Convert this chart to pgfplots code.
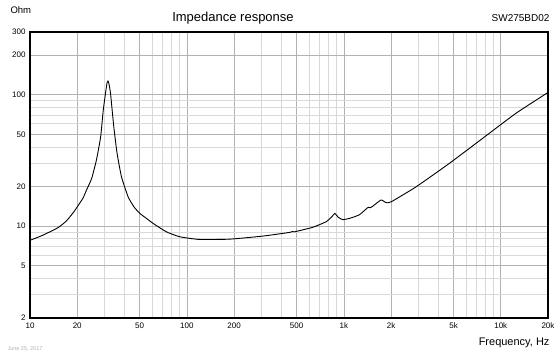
\documentclass[border=0pt]{standalone}
\usepackage{pgfplots}
\pgfplotsset{compat=1.18}
\usepackage{fontspec}
\setmainfont{Liberation Sans}
\begin{document}
\begin{tikzpicture}[x=1pt,y=1pt]
\begin{loglogaxis}[
  scale only axis, width=518pt, height=286pt,
  xmin=10, xmax=20000, ymin=2, ymax=300,
  axis line style={line width=1.3pt, black},
  xtick={10,20,50,100,200,500,1000,2000,5000,10000,20000},
  xticklabels={10,20,50,100,200,500,1k,2k,5k,10k,20k},
  minor xtick={30,40,60,70,80,90,300,400,600,700,800,900,3000,4000,6000,7000,8000,9000},
  ytick={2,5,10,20,50,100,200,300},
  yticklabels={2,5,10,20,50,100,200,300},
  minor ytick={3,4,6,7,8,9,30,40,60,70,80,90},
  grid=both,
  major grid style={gray!60, line width=0.6pt},
  minor grid style={gray!30, line width=0.8pt},
  major tick length=0pt, minor tick length=0pt,
  tick label style={font=\fontsize{8}{9}\selectfont, /pgf/number format/assume math mode=true},
  xticklabel style={yshift=-1pt},
  yticklabel style={xshift=-1pt},
  clip=true,
]
\addplot[black, line width=0.9pt, smooth, tension=0.3] coordinates {
(10,7.8) (12,8.5) (15,9.7) (17,10.9) (18.8,12.6) (20,14.0) (21.8,16.4) (23,19.0) (24.7,23.0)
(26.5,31.8) (28.2,47.8) (29.3,76.4) (30.3,103) (31.0,124) (31.4,127) (31.8,122) (32.6,102)
(34.2,57) (35.9,35.7) (38.3,23.7) (42.2,16.7) (46,14) (50.1,12.5) (55,11.5) (60.8,10.5)
(74,9.05) (90,8.3) (120,7.92) (187,7.96) (305,8.4) (451,8.96) (470,9.1) (485,9.05)
(634,9.8) (771,10.8) (840,11.8) (875,12.5) (920,11.7) (984,11.2) (1100,11.5) (1256,12.2)
(1387,13.5) (1430,13.9) (1470,13.8) (1520,14.1) (1726,15.8) (1857,15.1) (2000,15.3)
(2884,19.9) (4699,30.0) (7656,46.5) (12470,72.1) (20000,104)
};
\end{loglogaxis}
\node[anchor=west, font=\fontsize{9.5}{10}\selectfont] at (-23,346-356+318) {Ohm};
\node[font=\fontsize{13}{14}\selectfont] at (233-30,338-356+318) {Impedance response};
\node[anchor=east, font=\fontsize{10}{11}\selectfont] at (553-30,338-356+318) {SW275BD02};
\node[anchor=east, font=\fontsize{11}{12}\selectfont] at (553-30,-25) {Frequency, Hz};
\node[anchor=west, text=gray!60, font=\fontsize{5.5}{6}\selectfont] at (4-30,-31) {June 25, 2017};
\pgfresetboundingbox
\path (-30,-38) rectangle (530,318);
\end{tikzpicture}
\end{document}
